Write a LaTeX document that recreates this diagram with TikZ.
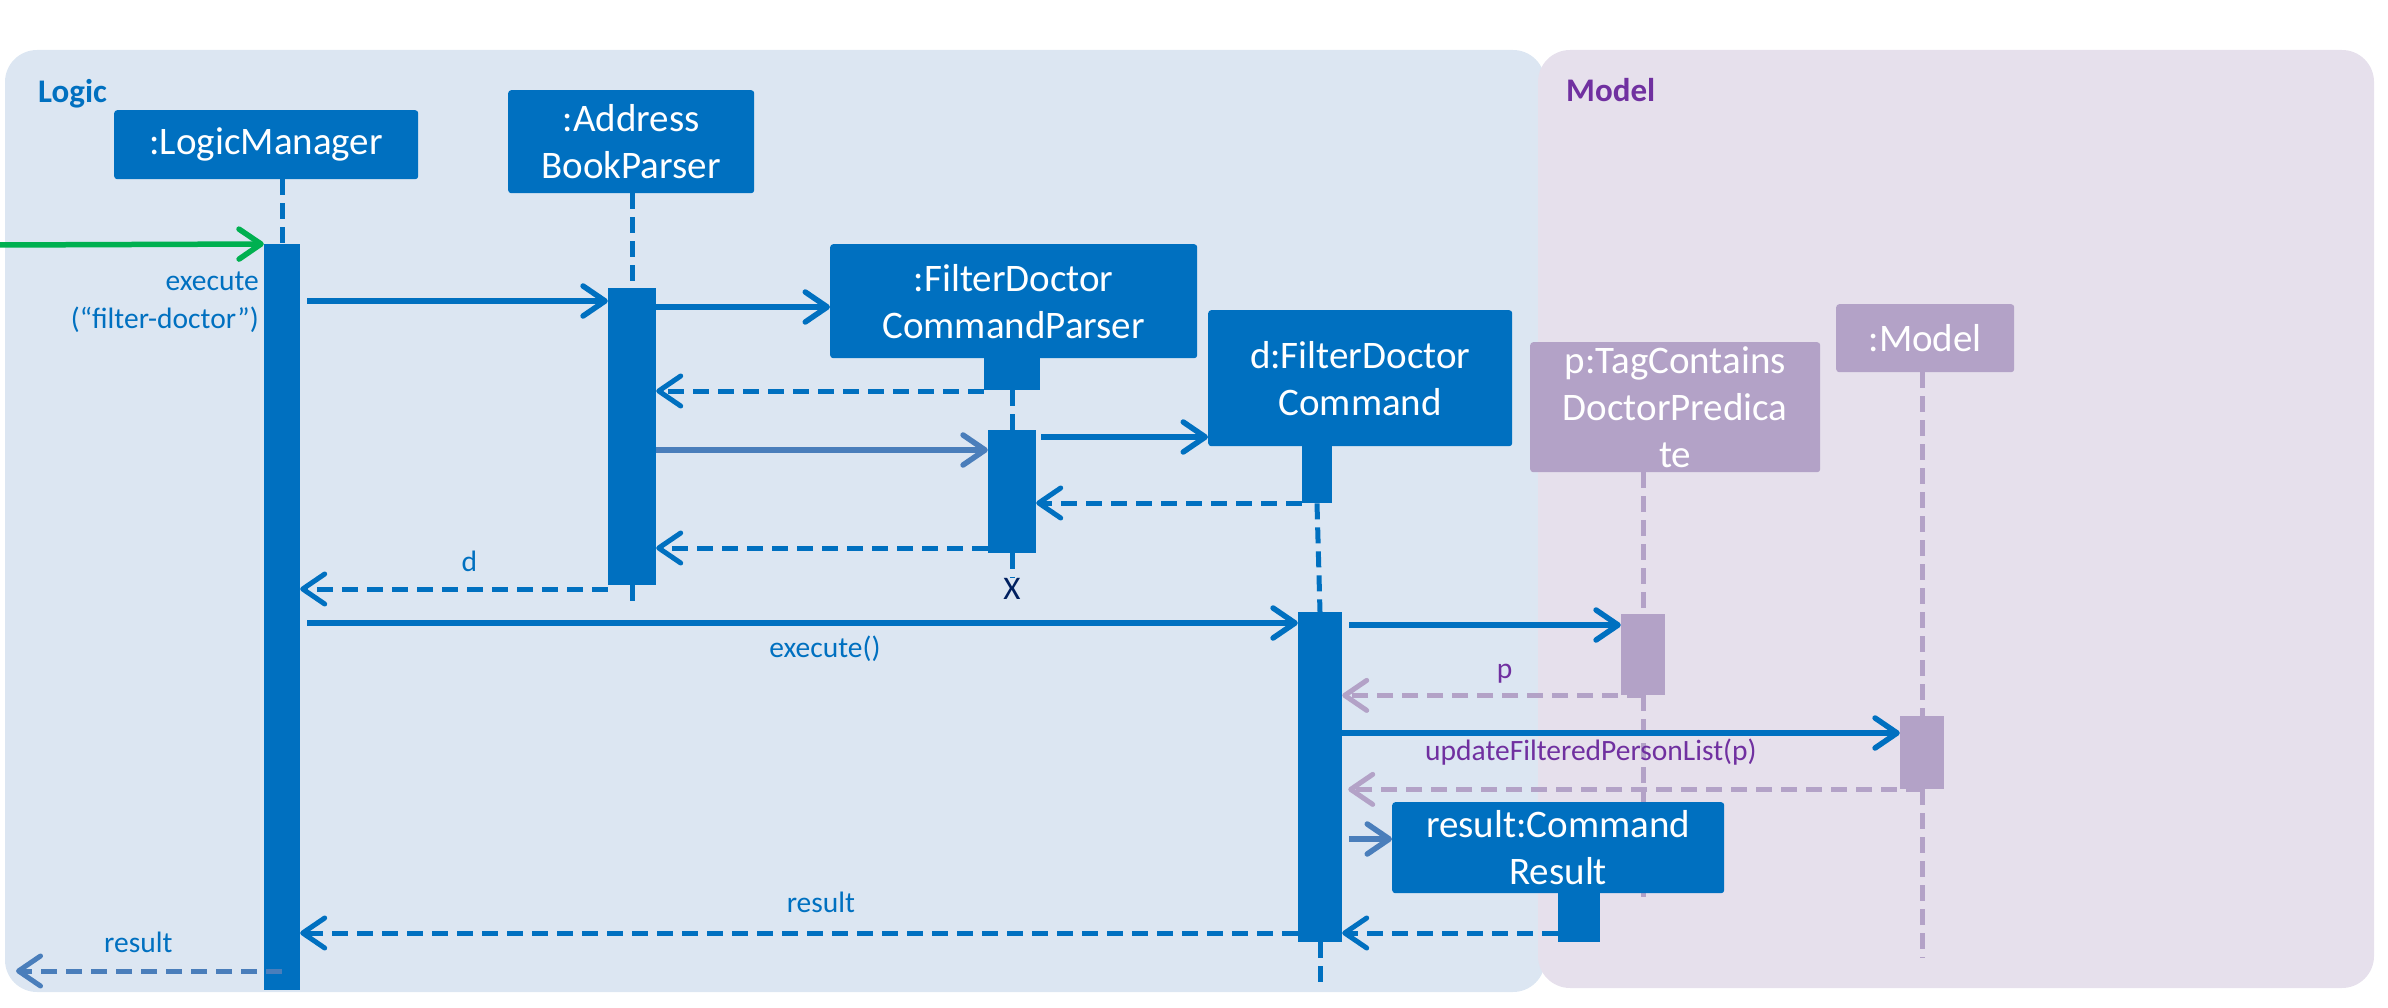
\documentclass[tikz,border=0pt]{standalone}
\usepackage{fontspec}
\setmainfont{Carlito}
\usetikzlibrary{arrows.meta}

\definecolor{seqblue}{HTML}{0070C0}
\definecolor{seqsteel}{HTML}{4A7EBB}
\definecolor{seqlilac}{HTML}{B3A2C7}
\definecolor{seqpurple}{HTML}{7030A0}
\definecolor{logicbg}{HTML}{DCE6F2}
\definecolor{modelbg}{HTML}{E6E0EC}
\definecolor{seqgreen}{HTML}{00B050}
\definecolor{seqnavy}{HTML}{002060}

\begin{document}
\begin{tikzpicture}[x=1pt,y=-1pt]
    % Define styles
    \tikzset{
        pkgframe/.style={rounded corners=32pt},
        object/.style={fill=seqblue, text=white, rounded corners=3pt, inner sep=0pt, align=center, anchor=north west, font=\fontsize{39}{47}\selectfont},
        mobject/.style={object, fill=seqlilac},
        bar/.style={fill=seqblue, inner sep=0pt, anchor=north},
        mbar/.style={bar, fill=seqlilac},
        lifeline/.style={seqblue, line width=5pt, dash pattern=on 16pt off 8pt},
        mlifeline/.style={lifeline, seqlilac},
        call/.style={-{Straight Barb[length=22pt,width=30pt,round]}, seqblue, line width=5.5pt},
        reply/.style={call, line width=5pt, dash pattern=on 16pt off 9pt},
        mreply/.style={reply, seqlilac},
        msglabel/.style={inner sep=0pt, font=\fontsize{29.5}{38}\selectfont, text=seqblue},
        framelabel/.style={inner sep=0pt, anchor=base west, font=\fontsize{33}{40}\selectfont\bfseries}
    }

    % Frames
    \path[use as bounding box] (0,0) rectangle (2388,1008);
    \fill[logicbg, pkgframe] (5,50) rectangle (1545,992);
    \fill[modelbg, pkgframe] (1538,50) rectangle (2374,988);
    \node[framelabel, text=seqblue] (logic_label) at (38,103) {Logic};
    \node[framelabel, text=seqpurple] (model_label) at (1566,102) {Model};

    % Objects
    \node[object, minimum width=304pt, minimum height=69pt] (lm_box) at (114,110) {:LogicManager};
    \node[object, minimum width=246pt, minimum height=103pt] (abp_box) at (508,90) {:Address\\BookParser};
    \node[object, minimum width=367pt, minimum height=114pt] (fdcp_box) at (830,244) {:FilterDoctor\\CommandParser};
    \node[object, minimum width=304pt, minimum height=136pt] (dfdc_box) at (1208,310) {d:FilterDoctor\\Command};
    \node[mobject, minimum width=290pt, minimum height=130pt] (p_box) at (1530,342) {p:TagContains\\DoctorPredica\\te};
    \node[mobject, minimum width=178pt, minimum height=68pt] (model_box) at (1836,304) {:Model};

    % Activation bars
    \node[bar, minimum width=36pt, minimum height=746pt] (lm_bar) at (282,244) {};
    \node[bar, minimum width=48pt, minimum height=297pt] (abp_bar) at (632,288) {};
    \node[bar, minimum width=56pt, minimum height=34pt] (fdcp_act) at (1012,356) {};
    \node[bar, minimum width=48pt, minimum height=123pt] (fdcp_bar) at (1012,430) {};
    \node[bar, minimum width=30pt, minimum height=58pt] (dfdc_act) at (1317,445) {};
    \node[bar, minimum width=44pt, minimum height=330pt] (dfdc_bar) at (1320,612) {};
    \node[mbar, minimum width=44pt, minimum height=81pt] (p_bar) at (1643,614) {};
    \node[mbar, minimum width=44pt, minimum height=73pt] (model_bar) at (1922,716) {};
    \node[seqnavy, inner sep=0pt, font=\fontsize{33}{40}\selectfont] (x_mark) at (1012,589) {X};

    % Lifelines
    \coordinate (abp_end) at (632,609);
    \coordinate (dfdc_end) at (1320,988);
    \coordinate (p_end) at (1643,897);
    \coordinate (model_end) at (1922,958);
    \draw[lifeline] (lm_bar.north |- lm_box.south) -- (lm_bar.north);
    \draw[lifeline] (abp_bar.north |- abp_box.south) -- (abp_bar.north);
    \draw[lifeline] (abp_bar.south) -- (abp_end);
    \draw[lifeline] (fdcp_act.south) -- (fdcp_bar.north);
    \draw[lifeline] (fdcp_bar.south) -- (x_mark.north);
    \draw[lifeline] (dfdc_act.south) -- (dfdc_bar.north);
    \draw[lifeline] (dfdc_bar.south) -- (dfdc_end);
    \draw[mlifeline] (p_bar.north |- p_box.south) -- (p_bar.north);
    \draw[mlifeline] (p_bar.south) -- (p_end);
    \draw[mlifeline] (model_bar.north |- model_box.south) -- (model_bar.north);
    \draw[mlifeline] (model_bar.south) -- (model_end);

    % Result object (over the predicate lifeline)
    \node[object, minimum width=332pt, minimum height=91pt] (res_box) at (1392,802) {result:Command\\Result};
    \node[bar, minimum width=42pt, minimum height=50pt] (res_act) at (1579,892) {};

    % Messages
    \coordinate (entry) at (0,245);
    \coordinate (exit) at (16,971);
    \draw[call, seqgreen] (entry) -- (lm_bar.north west);
    \node[msglabel, anchor=east, align=right] (exec_label) at (259,302) {execute\\(“filter-doctor”)};
    \draw[call, shorten <=7pt] (lm_bar.east |- 0,301) -- (abp_bar.west |- 0,301);
    \draw[call] (abp_bar.east |- 0,307) -- (fdcp_box.west |- 0,307);
    \draw[reply] (fdcp_act.west |- 0,391) -- (abp_bar.east |- 0,391);
    \draw[call, seqsteel] (abp_bar.east |- 0,450) -- (fdcp_bar.west |- 0,450);
    \draw[call, shorten <=5pt] (fdcp_bar.east |- 0,437) -- (dfdc_box.west |- 0,437);
    \draw[reply] (dfdc_act.west |- 0,503) -- (fdcp_bar.east |- 0,503);
    \draw[reply] (fdcp_bar.west |- 0,548) -- (abp_bar.east |- 0,548);
    \draw[reply] (abp_bar.west |- 0,589) -- (lm_bar.east |- 0,589)
        node[msglabel, pos=0.45, anchor=base, yshift=18pt] {d};
    \draw[call, shorten <=7pt] (lm_bar.east |- 0,623) -- (dfdc_bar.west |- 0,623)
        node[msglabel, pos=0.526, anchor=base, yshift=-34pt] {execute()};
    \draw[call, shorten <=7pt] (dfdc_bar.east |- 0,625) -- (p_bar.west |- 0,625);
    \draw[mreply] (p_bar.south) -- (dfdc_bar.east |- p_bar.south)
        node[msglabel, text=seqpurple, pos=0.46, anchor=base, yshift=17pt] {p};
    \draw[call] (dfdc_bar.east |- 0,733) -- (model_bar.west |- 0,733)
        node[msglabel, text=seqpurple, pos=0.446, anchor=base, yshift=-27pt] {updateFilteredPersonList(p)};
    \draw[mreply, shorten >=6pt] (model_bar.south) -- (dfdc_bar.east |- model_bar.south);
    \draw[call, seqsteel, shorten <=7pt] (dfdc_bar.east |- 0,839) -- (res_box.west |- 0,839);
    \draw[reply] (res_act.west |- 0,933) -- (dfdc_bar.east |- 0,933);
    \draw[reply] (dfdc_bar.west |- 0,933) -- (lm_bar.east |- 0,933)
        node[msglabel, pos=0.478, anchor=base, yshift=21pt] {result};
    \draw[reply, seqsteel] (lm_bar.center |- 0,971) -- (exit)
        node[msglabel, pos=0.54, anchor=base, yshift=19pt] {result};
\end{tikzpicture}
\end{document}
